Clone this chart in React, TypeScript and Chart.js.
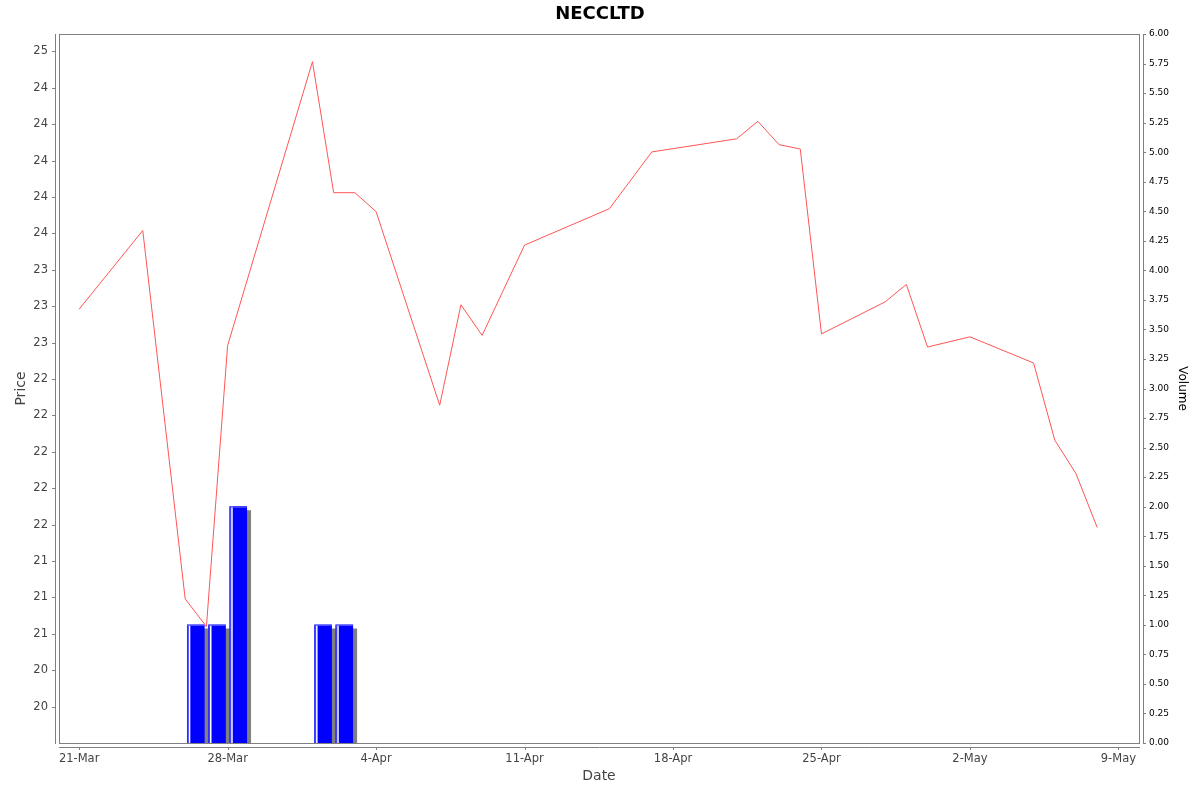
import React, { useEffect, useRef } from "react";
import { Chart, registerables } from "chart.js";

Chart.register(...registerables);

const TITLE = "NECCLTD";
const X_TITLE = "Date";
const Y_TITLE = "Price";
const Y2_TITLE = "Volume";

const DATES = [
  "2025-03-21", "2025-03-24", "2025-03-26", "2025-03-27", "2025-03-28",
  "2025-04-01", "2025-04-02", "2025-04-03", "2025-04-04", "2025-04-07",
  "2025-04-08", "2025-04-09", "2025-04-11", "2025-04-15", "2025-04-17",
  "2025-04-21", "2025-04-22", "2025-04-23", "2025-04-24", "2025-04-25",
  "2025-04-28", "2025-04-29", "2025-04-30", "2025-05-02", "2025-05-05",
  "2025-05-06", "2025-05-07", "2025-05-08",
];

const PRICES = [
  22.98, 23.52, 20.99, 20.8, 22.73,
  24.68, 23.78, 23.78, 23.65, 22.32,
  23.01, 22.8, 23.42, 23.67, 24.06,
  24.15, 24.27, 24.11, 24.08, 22.81,
  23.03, 23.15, 22.72, 22.79, 22.61,
  22.08, 21.85, 21.48,
];

const VOLUMES = [
  0, 0, 1, 1, 2,
  1, 1, 0, 0, 0,
  0, 0, 0, 0, 0,
  0, 0, 0, 0, 0,
  0, 0, 0, 0, 0,
  0, 0, 0,
];

const X_TICK_DATES = [
  "2025-03-21", "2025-03-28", "2025-04-04", "2025-04-11",
  "2025-04-18", "2025-04-25", "2025-05-02", "2025-05-09",
];
const X_TICK_LABELS = ["21-Mar", "28-Mar", "4-Apr", "11-Apr", "18-Apr", "25-Apr", "2-May", "9-May"];

const PRICE_TICKS = [
  20.25, 20.5, 20.75, 21.0, 21.25, 21.5, 21.75, 22.0, 22.25, 22.5,
  22.75, 23.0, 23.25, 23.5, 23.75, 24.0, 24.25, 24.5, 24.75,
];
const PRICE_TICK_LABELS = [
  "20", "20", "21", "21", "21", "22", "22", "22", "22", "22",
  "23", "23", "23", "24", "24", "24", "24", "24", "25",
];

const VOLUME_TICKS = [
  0, 0.25, 0.5, 0.75, 1.0, 1.25, 1.5, 1.75, 2.0, 2.25, 2.5, 2.75, 3.0,
  3.25, 3.5, 3.75, 4.0, 4.25, 4.5, 4.75, 5.0, 5.25, 5.5, 5.75, 6.0,
];

const X_MIN = -0.95;
const X_MAX = 49.97;
const PRICE_MIN = 20.0;
const PRICE_MAX = 24.87;
const VOL_MIN = 0;
const VOL_MAX = 6;

const FONT = "DejaVu Sans";

function toUTC(s: string): number {
  const [y, m, d] = s.split("-").map(Number);
  return Date.UTC(y, m - 1, d);
}
const BASE = toUTC(DATES[0]);
function dayOffset(s: string): number {
  return (toUTC(s) - BASE) / 86400000;
}

const BAR_W = 17;

const shadowPlugin = {
  id: "barShadow",
  beforeDatasetDraw(chart: any, args: any) {
    if (args.meta.type === "bar") {
      const ctx = chart.ctx;
      ctx.save();
      ctx.shadowColor = "rgb(128,128,128)";
      ctx.shadowOffsetX = 4;
      ctx.shadowOffsetY = 4;
      ctx.shadowBlur = 0;
    }
  },
  afterDatasetDraw(chart: any, args: any) {
    if (args.meta.type === "bar") {
      const ctx = chart.ctx;
      ctx.restore();
      const a = chart.chartArea;
      ctx.save();
      ctx.beginPath();
      ctx.rect(a.left, a.top, a.right - a.left, a.bottom - a.top);
      ctx.clip();
      for (const el of args.meta.data) {
        const p = el.getProps(["x", "y", "base", "width"], true);
        if (!isFinite(p.x) || !isFinite(p.y)) continue;
        const left = p.x - p.width / 2;
        const top = Math.min(p.y, p.base);
        const bottom = Math.max(p.y, p.base);
        ctx.fillStyle = "#4040ff";
        ctx.fillRect(left, top, 1.5, bottom - top);
        ctx.fillStyle = "#ffffff";
        ctx.fillRect(left + 1.5, top, 1.5, bottom - top);
        ctx.fillStyle = "#5a5aff";
        ctx.fillRect(left, top, p.width, 1);
      }
      ctx.restore();
    }
  },
};

const framePlugin = {
  id: "frame",
  afterDatasetsDraw(chart: any) {
    const { ctx, chartArea: a, scales } = chart;
    const L = Math.round(a.left);
    const R = Math.round(a.right);
    const T = Math.round(a.top);
    const B = Math.round(a.bottom);
    ctx.save();
    ctx.strokeStyle = "#808080";
    ctx.lineWidth = 1;
    ctx.strokeRect(L + 0.5, T + 0.5, R - L, B - T);
    ctx.beginPath();
    ctx.moveTo(L - 3.5, T);
    ctx.lineTo(L - 3.5, B + 1);
    ctx.moveTo(R + 4.5, T);
    ctx.lineTo(R + 4.5, B + 1);
    ctx.moveTo(L, B + 4.5);
    ctx.lineTo(R + 1, B + 4.5);
    for (const t of scales.y.ticks) {
      const yy = Math.round(scales.y.getPixelForValue(t.value)) + 0.5;
      ctx.moveTo(L - 7, yy);
      ctx.lineTo(L - 3, yy);
    }
    for (const t of scales.y1.ticks) {
      const yy = Math.round(scales.y1.getPixelForValue(t.value)) + 0.5;
      ctx.moveTo(R + 4, yy);
      ctx.lineTo(R + 7, yy);
    }
    for (const t of scales.x.ticks) {
      const xx = Math.round(scales.x.getPixelForValue(t.value)) + 0.5;
      ctx.moveTo(xx, B + 4);
      ctx.lineTo(xx, B + 7);
    }
    ctx.stroke();
    ctx.restore();
  },
};

export default function App() {
  const canvasRef = useRef<HTMLCanvasElement | null>(null);

  useEffect(() => {
    if (!canvasRef.current) return;
    const linePoints = DATES.map((d, i) => ({ x: dayOffset(d), y: PRICES[i] }));
    const barPoints = DATES.map((d, i) => ({ x: dayOffset(d) + 0.5, y: VOLUMES[i] })).filter(
      (p) => p.y > 0
    );
    const xTicks = X_TICK_DATES.map((d) => dayOffset(d));

    const chart = new Chart(canvasRef.current, {
      type: "line",
      data: {
        datasets: [
          {
            type: "line",
            label: "Price",
            data: linePoints,
            yAxisID: "y",
            xAxisID: "x",
            borderColor: "#ff5555",
            borderWidth: 1,
            pointRadius: 0,
            tension: 0,
            fill: false,
            order: 0,
          } as any,
          {
            type: "bar",
            label: "Volume",
            data: barPoints,
            yAxisID: "y1",
            xAxisID: "x",
            backgroundColor: "#0000ff",
            borderWidth: 0,
            barThickness: BAR_W,
            order: 1,
          } as any,
        ],
      },
      options: {
        responsive: false,
        animation: false,
        events: [],
        layout: { padding: 0 },
        plugins: {
          legend: { display: false },
          tooltip: { enabled: false },
          title: {
            display: true,
            text: TITLE,
            color: "#000000",
            font: { family: FONT, size: 18, weight: "bold", lineHeight: 1.2 },
            padding: { top: 4, bottom: 8.4 },
          },
        },
        scales: {
          x: {
            type: "linear",
            position: "bottom",
            min: X_MIN,
            max: X_MAX,
            offset: false,
            bounds: "data",
            afterBuildTicks: (scale: any) => {
              scale.ticks = xTicks.map((v) => ({ value: v }));
            },
            afterFit: (scale: any) => {
              scale.height = 49;
            },
            grid: { display: false, drawTicks: true, tickLength: 4 },
            border: { display: false },
            ticks: {
              autoSkip: false,
              maxRotation: 0,
              padding: 5,
              color: "#444444",
              font: { family: FONT, size: 11.5 },
              callback: (_v: any, i: number) => X_TICK_LABELS[i],
            },
            title: {
              display: true,
              text: X_TITLE,
              color: "#444444",
              font: { family: FONT, size: 14 },
              padding: { top: 0, bottom: 7 },
            },
          } as any,
          y: {
            type: "linear",
            position: "left",
            min: PRICE_MIN,
            max: PRICE_MAX,
            bounds: "data",
            afterBuildTicks: (scale: any) => {
              scale.ticks = PRICE_TICKS.map((v) => ({ value: v }));
            },
            afterFit: (scale: any) => {
              scale.width = 59;
            },
            grid: { display: false, drawTicks: true, tickLength: 8 },
            border: { display: false },
            ticks: {
              autoSkip: false,
              padding: 3,
              color: "#444444",
              font: { family: FONT, size: 11.5 },
              callback: (_v: any, i: number) => PRICE_TICK_LABELS[i],
            },
            title: {
              display: true,
              text: Y_TITLE,
              color: "#444444",
              font: { family: FONT, size: 14 },
              padding: { top: 13, bottom: 0 },
            },
          } as any,
          y1: {
            type: "linear",
            position: "right",
            min: VOL_MIN,
            max: VOL_MAX,
            bounds: "data",
            afterBuildTicks: (scale: any) => {
              scale.ticks = VOLUME_TICKS.map((v) => ({ value: v }));
            },
            afterFit: (scale: any) => {
              scale.width = 61;
            },
            grid: { display: false, drawTicks: true, tickLength: 8 },
            border: { display: false },
            ticks: {
              autoSkip: false,
              padding: 2,
              color: "#000000",
              font: { family: FONT, size: 9 },
              callback: (v: any) => Number(v).toFixed(2),
            },
            title: {
              display: true,
              text: Y2_TITLE,
              color: "#000000",
              font: { family: FONT, size: 12 },
              padding: { top: 10.8, bottom: 0 },
            },
          } as any,
        },
      },
      plugins: [shadowPlugin, framePlugin],
    } as any);

    return () => {
      chart.destroy();
    };
  }, []);

  return (
    <div
      style={{
        position: "fixed",
        left: 0,
        top: 0,
        width: 1200,
        height: 792,
        background: "#ffffff",
      }}
    >
      <canvas ref={canvasRef} width={1200} height={792} style={{ display: "block" }} />
    </div>
  );
}
